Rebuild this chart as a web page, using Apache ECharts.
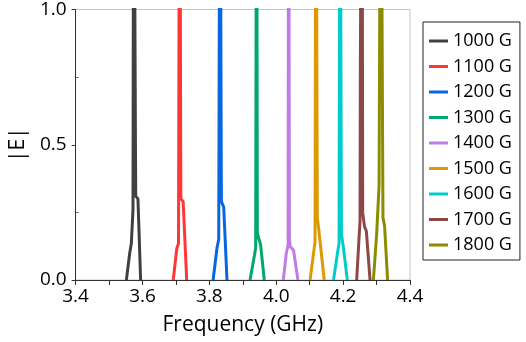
<!DOCTYPE html>
<html>
<head>
<meta charset="utf-8">
<script src="https://cdn.jsdelivr.net/npm/echarts@6/dist/echarts.min.js"></script>
<style>
  html, body { margin: 0; padding: 0; background: #fff; }
  #chart { width: 526px; height: 342px; }
</style>
</head>
<body>
<div id="chart"></div>
<script>
// field strengths shown in the legend
const fields = ['1000 G', '1100 G', '1200 G', '1300 G', '1400 G', '1500 G', '1600 G', '1700 G', '1800 G'];

// frequency samples (GHz) for each curve
const freqs = [
  [3.5518, 3.5618, 3.5666, 3.5716, 3.5737, 3.5790, 3.5798, 3.5864, 3.5944],
  [3.6920, 3.7026, 3.7077, 3.7112, 3.7142, 3.7148, 3.7216, 3.7322],
  [3.8112, 3.8230, 3.8280, 3.8318, 3.8355, 3.8360, 3.8429, 3.8527],
  [3.9216, 3.9346, 3.9385, 3.9412, 3.9435, 3.9464, 3.9533, 3.9642],
  [4.0210, 4.0302, 4.0355, 4.0368, 4.0395, 4.0420, 4.0518, 4.0648],
  [4.1012, 4.1121, 4.1160, 4.1187, 4.1228, 4.1269, 4.1435],
  [4.1713, 4.1831, 4.1879, 4.1905, 4.1950, 4.1997, 4.2127],
  [4.2405, 4.2506, 4.2515, 4.2565, 4.2585, 4.2635, 4.2695, 4.2805],
  [4.2905, 4.3003, 4.3075, 4.3083, 4.3125, 4.3192, 4.3240, 4.3330]
];

// |E| at those samples (peaks run off the top of the plot)
const mags = [
  [0, 0.10, 0.135, 0.26, 2, 0.49, 0.31, 0.30, 0],
  [0, 0.117, 0.135, 2, 0.48, 0.30, 0.29, 0],
  [0, 0.12, 0.15, 2, 0.44, 0.29, 0.27, 0],
  [0, 0.09, 0.12, 2, 0.175, 0.16, 0.13, 0],
  [0, 0.10, 0.13, 2, 0.15, 0.123, 0.11, 0],
  [0, 0.105, 0.14, 2, 0.23, 0.19, 0],
  [0, 0.10, 0.135, 2, 0.17, 0.13, 0],
  [0, 0.22, 0.80, 2, 0.25, 0.20, 0.18, 0],
  [0, 0.17, 0.35, 0.60, 2, 0.23, 0.20, 0]
];

const colors = ['#404040', '#ff3636', '#0866e0', '#00a86a', '#c07ce6', '#dd9900', '#00cccc', '#8b4848', '#8c8c00'];

const font = '"Open Sans", Lato, sans-serif';

const series = fields.map((name, i) => ({
  name,
  type: 'line',
  symbol: 'none',
  clip: true,
  data: freqs[i].map((f, k) => [f, mags[i][k]]),
  lineStyle: { width: 3, color: colors[i] },
  itemStyle: { color: colors[i] }
}));

const chart = echarts.init(document.getElementById('chart'));
chart.setOption({
  animation: false,
  backgroundColor: '#fff',
  color: colors,
  grid: {
    left: 72, right: 116, top: 9, bottom: 62,
    show: true, borderColor: '#c4c4c4', borderWidth: 1
  },
  legend: {
    orient: 'vertical',
    left: 423,
    top: 22,
    padding: [10, 8, 6, 6],
    itemGap: 7.5,
    itemWidth: 19,
    itemHeight: 3,
    icon: 'rect',
    borderColor: '#222',
    borderWidth: 1,
    textStyle: { fontFamily: font, fontSize: 18, lineHeight: 18, color: '#000' },
    data: fields
  },
  xAxis: {
    type: 'value',
    min: 3.4,
    max: 4.4,
    interval: 0.1,
    name: 'Frequency (GHz)',
    nameLocation: 'middle',
    nameGap: 35,
    nameTextStyle: { fontFamily: font, fontSize: 21, color: '#000' },
    splitLine: { show: false },
    axisLine: { lineStyle: { color: '#333', width: 1 } },
    axisTick: { length: 5, lineStyle: { color: '#333' } },
    axisLabel: {
      margin: 7,
      fontFamily: font,
      fontSize: 19,
      color: '#000',
      formatter: v => (Math.round(v * 10) % 2 === 0 ? v.toFixed(1) : '')
    }
  },
  yAxis: {
    type: 'value',
    min: 0,
    max: 1,
    interval: 0.5,
    name: '|E|',
    nameLocation: 'middle',
    nameGap: 46,
    nameTextStyle: { fontFamily: font, fontSize: 21, color: '#000' },
    splitLine: { show: false },
    axisLine: { show: true, lineStyle: { color: '#333', width: 1 } },
    axisTick: { show: true, length: 4, lineStyle: { color: '#333' } },
    minorTick: { show: true, splitNumber: 2, length: -3, lineStyle: { color: '#666' } },
    axisLabel: {
      margin: 9,
      fontFamily: font,
      fontSize: 19,
      color: '#000',
      formatter: v => v.toFixed(1)
    }
  },
  series
});
</script>
</body>
</html>
